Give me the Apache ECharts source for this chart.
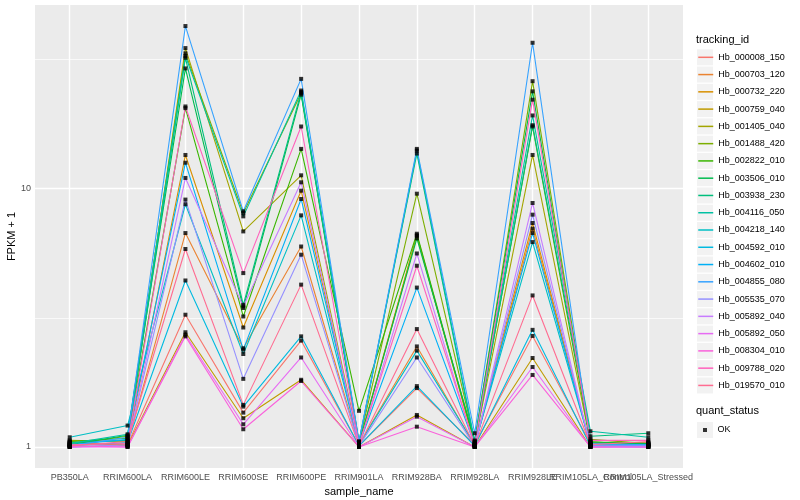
<!DOCTYPE html>
<html><head><meta charset="utf-8">
<script src="https://cdn.jsdelivr.net/npm/echarts@6/dist/echarts.min.js"></script>
<style>html,body{margin:0;padding:0;background:#fff}#c{width:800px;height:500px}</style>
</head><body><div id="c"></div>
<script>
// ---- data (FPKM + 1) ----
const categories = ['PB350LA','RRIM600LA','RRIM600LE','RRIM600SE','RRIM600PE','RRIM901LA','RRIM928BA','RRIM928LA','RRIM928LE','RRIM105LA_Control','RRIM105LA_Stressed'];
const trackingIds = ['Hb_000008_150','Hb_000703_120','Hb_000732_220','Hb_000759_040','Hb_001405_040','Hb_001488_420','Hb_002822_010','Hb_003506_010','Hb_003938_230','Hb_004116_050','Hb_004218_140','Hb_004592_010','Hb_004602_010','Hb_004855_080','Hb_005535_070','Hb_005892_040','Hb_005892_050','Hb_008304_010','Hb_009788_020','Hb_019570_010'];
const Hb_000008_150 = [1.00, 1.02, 3.25, 1.358, 2.58, 1.01, 1.69, 1.02, 2.69, 1.03, 1.04];
const Hb_000703_120 = [1.02, 1.03, 6.73, 2.41, 5.97, 1.02, 2.45, 1.01, 7.00, 1.02, 1.01];
const Hb_000732_220 = [1.04, 1.02, 13.5, 2.90, 9.82, 1.03, 6.60, 1.02, 7.36, 1.01, 1.02];
const Hb_000759_040 = [1.05, 1.01, 2.78, 1.292, 1.82, 1.00, 1.33, 1.00, 2.21, 1.00, 1.01];
const Hb_001405_040 = [1.06, 1.05, 35.0, 6.83, 11.26, 1.02, 6.57, 1.03, 13.5, 1.04, 1.03];
const Hb_001488_420 = [1.03, 1.10, 33.4, 8.05, 23.4, 1.04, 9.56, 1.05, 26.06, 1.07, 1.03];
const Hb_002822_010 = [1.05, 1.08, 20.5, 3.20, 14.25, 1.38, 6.69, 1.04, 17.4, 1.05, 1.02];
const Hb_003506_010 = [1.02, 1.11, 29.2, 3.45, 23.1, 1.03, 6.42, 1.06, 23.8, 1.04, 1.03];
const Hb_003938_230 = [1.04, 1.06, 32.1, 3.55, 23.7, 1.05, 13.67, 1.03, 17.6, 1.10, 1.13];
const Hb_004116_050 = [1.03, 1.12, 32.6, 7.81, 23.98, 1.04, 14.04, 1.05, 19.2, 1.15, 1.09];
const Hb_004218_140 = [1.09, 1.21, 8.70, 2.29, 7.88, 1.02, 2.36, 1.02, 6.21, 1.02, 1.02];
const Hb_004592_010 = [1.01, 1.04, 4.41, 1.433, 2.68, 1.01, 1.72, 1.01, 2.84, 1.01, 1.00];
const Hb_004602_010 = [1.02, 1.07, 12.6, 2.38, 9.12, 1.02, 4.14, 1.02, 6.73, 1.02, 1.01];
const Hb_004855_080 = [1.01, 1.09, 42.6, 8.17, 26.6, 1.05, 14.25, 1.13, 36.7, 1.03, 1.02];
const Hb_005535_070 = [1.00, 1.02, 9.07, 1.835, 5.55, 1.01, 2.22, 1.01, 7.93, 1.01, 1.01];
const Hb_005892_040 = [1.00, 1.01, 11.0, 3.50, 10.58, 1.01, 5.61, 1.00, 8.80, 1.00, 1.00];
const Hb_005892_050 = [1.00, 1.00, 2.72, 1.224, 2.22, 1.00, 1.31, 1.00, 2.04, 1.00, 1.00];
const Hb_008304_010 = [1.01, 1.00, 2.68, 1.171, 1.80, 1.00, 1.198, 1.00, 1.90, 1.00, 1.00];
const Hb_009788_020 = [1.02, 1.03, 20.8, 4.71, 17.4, 1.02, 5.03, 1.02, 22.1, 1.06, 1.06];
const Hb_019570_010 = [1.01, 1.05, 5.84, 1.455, 4.25, 1.01, 2.86, 1.01, 3.86, 1.02, 1.05];
const quantStatus = ['OK'];
const yMajorBreaks = [1, 10];
const yMinorBreaks = [3.1623, 31.623];

// ---- styling ----
const palette = ['#F8766D','#EA8331','#D89000','#C09B00','#A3A500','#7CAE00','#39B600','#00BB4E','#00BF7D','#00C1A3','#00BFC4','#00BAE0','#00B0F6','#35A2FF','#9590FF','#C77CFF','#E76BF3','#FA62DB','#FF62BC','#FF6C91'];
const FONT = '"Liberation Sans", Arial, Helvetica, sans-serif';
const seriesValues = [Hb_000008_150,Hb_000703_120,Hb_000732_220,Hb_000759_040,Hb_001405_040,Hb_001488_420,Hb_002822_010,Hb_003506_010,Hb_003938_230,Hb_004116_050,Hb_004218_140,Hb_004592_010,Hb_004602_010,Hb_004855_080,Hb_005535_070,Hb_005892_040,Hb_005892_050,Hb_008304_010,Hb_009788_020,Hb_019570_010];
const lg = v => Math.log10(v);
const catIdx = categories.map((c, i) => i);
const evenIdx = catIdx.filter(i => i % 2 === 0);
const oddIdx = catIdx.filter(i => i % 2 === 1);

// ggplot-like expansion of the log range
const allLog = seriesValues.flat().map(lg);
const dMin = Math.min(...allLog), dMax = Math.max(...allLog);
const pad = (dMax - dMin) * 0.05;
const yMin = dMin - pad, yMax = dMax + pad;

const lineSeries = trackingIds.map((id, k) => ({
  type: 'line', name: id, z: 2, silent: true, animation: false,
  xAxisIndex: 0, yAxisIndex: 0,
  color: palette[k],
  symbol: 'none', showSymbol: false,
  data: seriesValues[k].map((v, i) => [i, lg(v)]),
  lineStyle: { width: 1.1, color: palette[k] },
  itemStyle: { color: palette[k] },
  emphasis: { disabled: true }
}));

const pts = [];
seriesValues.forEach(arr => arr.forEach((v, i) => pts.push([i, lg(v)])));

const gridLines = []
  .concat(catIdx.map(i => ({ xAxis: i, lineStyle: { width: 1.4 } })))
  .concat(yMajorBreaks.map(v => ({ yAxis: lg(v), lineStyle: { width: 1.4 } })))
  .concat(yMinorBreaks.map(v => ({ yAxis: lg(v), lineStyle: { width: 0.7 } })));

const pointSeries = {
  type: 'scatter', name: quantStatus[0], z: 3, silent: true, animation: false,
  xAxisIndex: 0, yAxisIndex: 0,
  symbol: 'rect', symbolSize: 4, data: pts,
  itemStyle: { color: '#000' },
  emphasis: { disabled: true },
  markLine: {
    silent: true, z: 1, animation: false, symbol: ['none', 'none'],
    label: { show: false }, emphasis: { disabled: true },
    lineStyle: { color: '#FFFFFF', type: 'solid' },
    data: gridLines
  }
};

// legend layout
const legCenter0 = 57.3, legStep = 17.27;
const lineIconH = 17, symH = lineIconH * 0.8;          // legend item box height = symbol height
const legTop = legCenter0 - (lineIconH / 2 - (lineIconH - symH) / 2);
const okCenter = 430;

const decor = [];
trackingIds.forEach((id, i) => decor.push({
  type: 'rect', z: -1, silent: true,
  shape: { x: 697, y: legCenter0 + i * legStep - 8, width: 16, height: 16 },
  style: { fill: '#F2F2F2' }
}));
decor.push({ type: 'rect', z: -1, silent: true,
  shape: { x: 697, y: okCenter - 8, width: 16, height: 16 }, style: { fill: '#F2F2F2' } });
// y-axis title (rotated, centred on the panel)
decor.push({ type: 'text', silent: true, x: 12, y: 236.5, rotation: Math.PI / 2,
  style: { text: 'FPKM + 1', align: 'center', verticalAlign: 'middle', fontSize: 11, fill: '#000', fontFamily: FONT } });

const catLabel = v => (Math.abs(v - Math.round(v)) < 1e-6 && categories[Math.round(v)]) ? categories[Math.round(v)] : '';
const xBase = {
  type: 'value', min: -0.6, max: categories.length - 0.4, position: 'bottom',
  axisLine: { show: false }, splitLine: { show: false }
};
const xLabelStyle = { color: '#4D4D4D', fontSize: 9, margin: 5, fontFamily: FONT,
  hideOverlap: false, showMinLabel: true, showMaxLabel: true, formatter: catLabel };

const option = {
  animation: false,
  backgroundColor: '#FFFFFF',
  textStyle: { fontFamily: FONT },
  grid: { left: 35, right: 117, top: 5, bottom: 32, show: true, backgroundColor: '#EBEBEB', borderWidth: 0,
          containLabel: false, outerBoundsMode: 'none' },
  xAxis: [
    Object.assign({}, xBase, {
      axisTick: { show: true, customValues: catIdx, length: 3, lineStyle: { color: '#333333', width: 1 } },
      axisLabel: Object.assign({ customValues: evenIdx }, xLabelStyle),
      name: 'sample_name', nameLocation: 'middle', nameGap: 14,
      nameTextStyle: { fontSize: 11, color: '#000', fontFamily: FONT }
    }),
    Object.assign({}, xBase, {
      axisTick: { show: false },
      axisLabel: Object.assign({ customValues: oddIdx }, xLabelStyle)
    })
  ],
  yAxis: {
    type: 'value', min: yMin, max: yMax,
    axisLine: { show: false }, splitLine: { show: false },
    axisTick: { show: true, customValues: yMajorBreaks.map(lg), length: 3, lineStyle: { color: '#333333', width: 1 } },
    axisLabel: { customValues: yMajorBreaks.map(lg), color: '#4D4D4D', fontSize: 9, margin: 4, fontFamily: FONT,
      showMinLabel: true, showMaxLabel: true,
      formatter: v => Math.abs(v - Math.round(v)) < 1e-6 ? String(Math.round(Math.pow(10, v))) : '' }
  },
  title: [
    { text: 'tracking_id', left: 696, top: 34, padding: 0, textStyle: { fontSize: 11, fontWeight: 'normal', color: '#000', fontFamily: FONT } },
    { text: 'quant_status', left: 696, top: 405, padding: 0, textStyle: { fontSize: 11, fontWeight: 'normal', color: '#000', fontFamily: FONT } }
  ],
  legend: [
    { data: trackingIds, orient: 'vertical', left: 697.5, top: legTop, padding: 0,
      itemWidth: 15, itemHeight: lineIconH, itemGap: legStep - symH, selectedMode: false,
      itemStyle: { opacity: 0 }, lineStyle: { width: 1.5 },
      textStyle: { fontSize: 9, color: '#000', fontFamily: FONT } },
    { data: quantStatus, orient: 'vertical', left: 697.5, top: okCenter - 8.5, padding: 0,
      itemWidth: 15, itemHeight: 17, selectedMode: false,
      icon: 'path://M0,0L4,0L4,4L0,4Z M-5.5,-6.5L-5.499,-6.5Z M9.5,10.5L9.499,10.5Z',
      textStyle: { fontSize: 9, color: '#000', fontFamily: FONT } }
  ],
  graphic: decor,
  series: lineSeries.concat([pointSeries])
};

const chart = echarts.init(document.getElementById('c'), null, { renderer: 'canvas' });
chart.setOption(option);
</script></body></html>
